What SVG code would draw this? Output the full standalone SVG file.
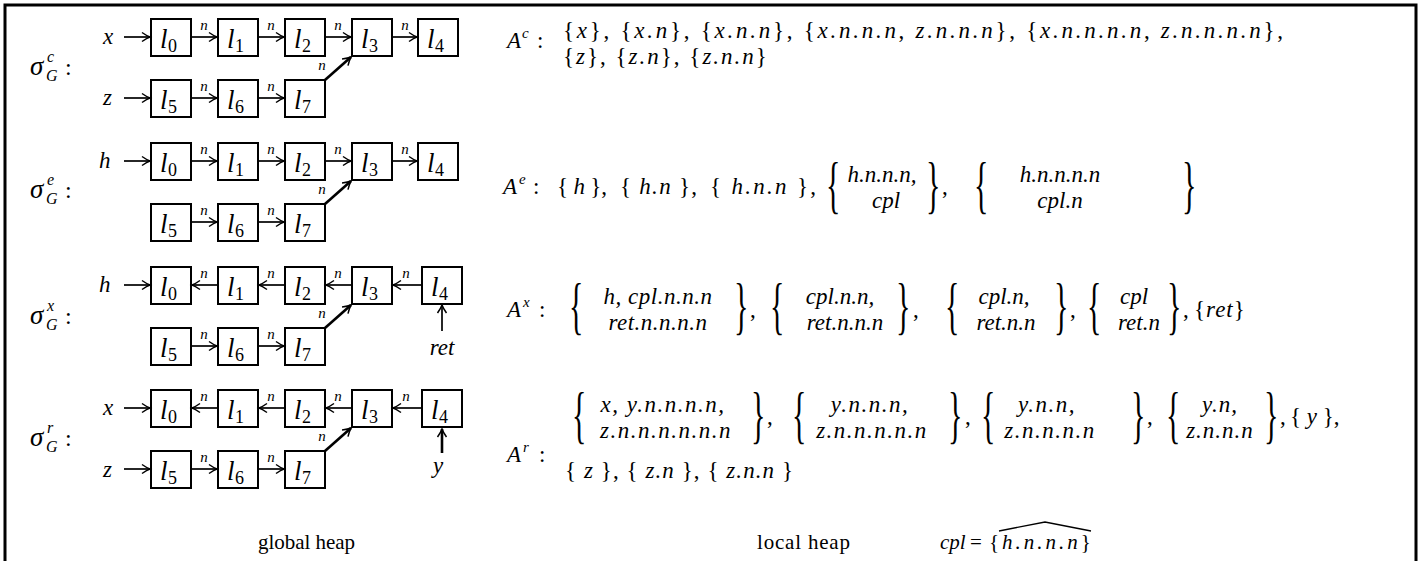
<svg xmlns="http://www.w3.org/2000/svg" width="1427" height="561" viewBox="0 0 1427 561">
<style>
  text { font-family: "Liberation Serif", "DejaVu Serif", serif; fill: #000; }
  .i { font-style: italic; }
  .m { font-size: 23px; }
  .sg { font-size: 27px; font-style: italic; }
  .sgs { font-size: 16px; font-style: italic; }
  .col { font-size: 24px; }
  .ptr { font-size: 23px; font-style: italic; }
  .ll { font-size: 27px; font-style: italic; }
  .ls { font-size: 18px; }
  .nl { font-size: 15px; font-style: italic; text-anchor: middle; }
  .bx { fill: #fff; stroke: #000; stroke-width: 2; }
  .ar { fill: none; stroke: #000; stroke-width: 1.7; marker-end: url(#ah); }
  .dg { fill: none; stroke: #000; stroke-width: 2.6; marker-end: url(#ah); }
  .bb { font-size: 30px; }
  .mid { text-anchor: middle; }
  .cap { font-size: 21px; }
  .sup { font-size: 15px; font-style: italic; }
</style>
<defs>
  <marker id="ah" markerUnits="userSpaceOnUse" markerWidth="14" markerHeight="14" viewBox="-10 -7 12 14" refX="0" refY="0" orient="auto">
    <path d="M-8,-4.5 Q-3,-1 0,0 Q-3,1 -8,4.5" fill="none" stroke="#000" stroke-width="1.5"/>
  </marker>
</defs>

<!-- frame -->
<path d="M5,561 V5 H1416 V561" fill="none" stroke="#000" stroke-width="3"/>

<!-- ===== state labels ===== -->
<g id="label-sigma-c"><text class="sg" x="30" y="75">σ</text><text class="sgs" x="47" y="62">c</text><text class="sgs" x="46" y="81">G</text><text class="col" x="65" y="75">:</text></g>
<g id="label-sigma-e"><text class="sg" x="30" y="198">σ</text><text class="sgs" x="47" y="185">e</text><text class="sgs" x="46" y="204">G</text><text class="col" x="65" y="198">:</text></g>
<g id="label-sigma-x"><text class="sg" x="30" y="324">σ</text><text class="sgs" x="47" y="311">x</text><text class="sgs" x="46" y="330">G</text><text class="col" x="65" y="324">:</text></g>
<g id="label-sigma-r"><text class="sg" x="30" y="446">σ</text><text class="sgs" x="47" y="433">r</text><text class="sgs" x="46" y="452">G</text><text class="col" x="65" y="446">:</text></g>

<!-- ===== row c ===== -->
<g id="c-l0"><rect class="bx" x="151" y="19" width="40" height="37"/><text class="ll" x="160" y="48">l</text><text class="ls" x="168" y="52">0</text></g>
<g id="c-l1"><rect class="bx" x="218" y="19" width="40" height="37"/><text class="ll" x="227" y="48">l</text><text class="ls" x="235" y="52">1</text></g>
<g id="c-l2"><rect class="bx" x="285" y="19" width="40" height="37"/><text class="ll" x="294" y="48">l</text><text class="ls" x="302" y="52">2</text></g>
<g id="c-l3"><rect class="bx" x="352" y="19" width="40" height="37"/><text class="ll" x="361" y="48">l</text><text class="ls" x="369" y="52">3</text></g>
<g id="c-l4"><rect class="bx" x="418" y="19" width="40" height="37"/><text class="ll" x="427" y="48">l</text><text class="ls" x="435" y="52">4</text></g>
<g id="c-l5"><rect class="bx" x="151" y="80" width="40" height="37"/><text class="ll" x="160" y="109">l</text><text class="ls" x="168" y="113">5</text></g>
<g id="c-l6"><rect class="bx" x="218" y="80" width="40" height="37"/><text class="ll" x="227" y="109">l</text><text class="ls" x="235" y="113">6</text></g>
<g id="c-l7"><rect class="bx" x="285" y="80" width="40" height="37"/><text class="ll" x="294" y="109">l</text><text class="ls" x="302" y="113">7</text></g>
<g id="c-vars"><text class="ptr" x="103" y="44">x</text><text class="ptr" x="103" y="105">z</text></g>

<!-- ===== row e ===== -->
<g id="e-l0"><rect class="bx" x="151" y="143" width="40" height="37"/><text class="ll" x="160" y="172">l</text><text class="ls" x="168" y="176">0</text></g>
<g id="e-l1"><rect class="bx" x="218" y="143" width="40" height="37"/><text class="ll" x="227" y="172">l</text><text class="ls" x="235" y="176">1</text></g>
<g id="e-l2"><rect class="bx" x="285" y="143" width="40" height="37"/><text class="ll" x="294" y="172">l</text><text class="ls" x="302" y="176">2</text></g>
<g id="e-l3"><rect class="bx" x="352" y="143" width="40" height="37"/><text class="ll" x="361" y="172">l</text><text class="ls" x="369" y="176">3</text></g>
<g id="e-l4"><rect class="bx" x="418" y="143" width="40" height="37"/><text class="ll" x="427" y="172">l</text><text class="ls" x="435" y="176">4</text></g>
<g id="e-l5"><rect class="bx" x="151" y="204" width="40" height="37"/><text class="ll" x="160" y="233">l</text><text class="ls" x="168" y="237">5</text></g>
<g id="e-l6"><rect class="bx" x="218" y="204" width="40" height="37"/><text class="ll" x="227" y="233">l</text><text class="ls" x="235" y="237">6</text></g>
<g id="e-l7"><rect class="bx" x="285" y="204" width="40" height="37"/><text class="ll" x="294" y="233">l</text><text class="ls" x="302" y="237">7</text></g>
<g id="e-vars"><text class="ptr" x="99" y="168">h</text></g>

<!-- ===== row x ===== -->
<g id="x-l0"><rect class="bx" x="151" y="267" width="40" height="37"/><text class="ll" x="160" y="296">l</text><text class="ls" x="168" y="300">0</text></g>
<g id="x-l1"><rect class="bx" x="218" y="267" width="40" height="37"/><text class="ll" x="227" y="296">l</text><text class="ls" x="235" y="300">1</text></g>
<g id="x-l2"><rect class="bx" x="285" y="267" width="40" height="37"/><text class="ll" x="294" y="296">l</text><text class="ls" x="302" y="300">2</text></g>
<g id="x-l3"><rect class="bx" x="352" y="267" width="40" height="37"/><text class="ll" x="361" y="296">l</text><text class="ls" x="369" y="300">3</text></g>
<g id="x-l4"><rect class="bx" x="422" y="267" width="40" height="37"/><text class="ll" x="431" y="296">l</text><text class="ls" x="439" y="300">4</text></g>
<g id="x-l5"><rect class="bx" x="151" y="328" width="40" height="37"/><text class="ll" x="160" y="357">l</text><text class="ls" x="168" y="361">5</text></g>
<g id="x-l6"><rect class="bx" x="218" y="328" width="40" height="37"/><text class="ll" x="227" y="357">l</text><text class="ls" x="235" y="361">6</text></g>
<g id="x-l7"><rect class="bx" x="285" y="328" width="40" height="37"/><text class="ll" x="294" y="357">l</text><text class="ls" x="302" y="361">7</text></g>
<g id="x-vars"><text class="ptr" x="99" y="292">h</text><text class="ptr mid" x="442" y="355">ret</text></g>

<!-- ===== row r ===== -->
<g id="r-l0"><rect class="bx" x="151" y="390" width="40" height="37"/><text class="ll" x="160" y="419">l</text><text class="ls" x="168" y="423">0</text></g>
<g id="r-l1"><rect class="bx" x="218" y="390" width="40" height="37"/><text class="ll" x="227" y="419">l</text><text class="ls" x="235" y="423">1</text></g>
<g id="r-l2"><rect class="bx" x="285" y="390" width="40" height="37"/><text class="ll" x="294" y="419">l</text><text class="ls" x="302" y="423">2</text></g>
<g id="r-l3"><rect class="bx" x="352" y="390" width="40" height="37"/><text class="ll" x="361" y="419">l</text><text class="ls" x="369" y="423">3</text></g>
<g id="r-l4"><rect class="bx" x="422" y="390" width="40" height="37"/><text class="ll" x="431" y="419">l</text><text class="ls" x="439" y="423">4</text></g>
<g id="r-l5"><rect class="bx" x="151" y="451" width="40" height="37"/><text class="ll" x="160" y="480">l</text><text class="ls" x="168" y="484">5</text></g>
<g id="r-l6"><rect class="bx" x="218" y="451" width="40" height="37"/><text class="ll" x="227" y="480">l</text><text class="ls" x="235" y="484">6</text></g>
<g id="r-l7"><rect class="bx" x="285" y="451" width="40" height="37"/><text class="ll" x="294" y="480">l</text><text class="ls" x="302" y="484">7</text></g>
<g id="r-vars"><text class="ptr" x="103" y="415">x</text><text class="ptr" x="103" y="477">z</text><text class="ptr mid" x="438" y="473">y</text></g>

<!-- ===== connectors ===== -->
<g id="connectors">
  <!-- row c -->
  <path class="ar" d="M124,37 H150"/>
  <path class="ar" d="M192,37 H217"/><path class="ar" d="M259,37 H284"/><path class="ar" d="M326,37 H351"/><path class="ar" d="M393,37 H417"/>
  <path class="ar" d="M124,98 H150"/>
  <path class="ar" d="M192,98 H217"/><path class="ar" d="M259,98 H284"/>
  <path class="dg" d="M325,80 L351,57"/>
  <!-- row e -->
  <path class="ar" d="M124,161 H150"/>
  <path class="ar" d="M192,161 H217"/><path class="ar" d="M259,161 H284"/><path class="ar" d="M326,161 H351"/><path class="ar" d="M393,161 H417"/>
  <path class="ar" d="M192,222 H217"/><path class="ar" d="M259,222 H284"/>
  <path class="dg" d="M325,204 L351,181"/>
  <!-- row x -->
  <path class="ar" d="M124,285 H150"/>
  <path class="ar" d="M217,285 H192"/><path class="ar" d="M284,285 H259"/><path class="ar" d="M351,285 H326"/><path class="ar" d="M421,285 H393"/>
  <path class="ar" d="M192,346 H217"/><path class="ar" d="M259,346 H284"/>
  <path class="dg" d="M325,328 L351,305"/>
  <path class="ar" d="M442,331 V305"/>
  <!-- row r -->
  <path class="ar" d="M124,408 H150"/>
  <path class="ar" d="M217,408 H192"/><path class="ar" d="M284,408 H259"/><path class="ar" d="M351,408 H326"/><path class="ar" d="M421,408 H393"/>
  <path class="ar" d="M124,469 H150"/>
  <path class="ar" d="M192,469 H217"/><path class="ar" d="M259,469 H284"/>
  <path class="dg" d="M325,451 L351,428"/>
  <path class="ar" d="M442,453 V429" style="stroke-width:2.6"/>

  <!-- field labels -->
  <g class="nl-set">
    <text class="nl" x="204" y="30">n</text><text class="nl" x="271" y="30">n</text><text class="nl" x="338" y="30">n</text><text class="nl" x="405" y="30">n</text>
    <text class="nl" x="204" y="91">n</text><text class="nl" x="271" y="91">n</text><text class="nl" x="322" y="70">n</text>
    <text class="nl" x="204" y="154">n</text><text class="nl" x="271" y="154">n</text><text class="nl" x="338" y="154">n</text><text class="nl" x="405" y="154">n</text>
    <text class="nl" x="204" y="215">n</text><text class="nl" x="271" y="215">n</text><text class="nl" x="322" y="194">n</text>
    <text class="nl" x="204" y="278">n</text><text class="nl" x="271" y="278">n</text><text class="nl" x="338" y="278">n</text><text class="nl" x="406" y="278">n</text>
    <text class="nl" x="204" y="339">n</text><text class="nl" x="271" y="339">n</text><text class="nl" x="322" y="318">n</text>
    <text class="nl" x="204" y="401">n</text><text class="nl" x="271" y="401">n</text><text class="nl" x="338" y="401">n</text><text class="nl" x="406" y="401">n</text>
    <text class="nl" x="204" y="462">n</text><text class="nl" x="271" y="462">n</text><text class="nl" x="322" y="441">n</text>
  </g>
</g>

<!-- ===== access paths: A^c ===== -->
<g id="paths-c" class="m">
  <text class="i" x="507" y="48">A</text><text class="sup" x="522" y="38">c</text><text x="537" y="48">:</text>
  <text x="563" y="38" textLength="720">{<tspan class="i">x</tspan>}, {<tspan class="i">x.n</tspan>}, {<tspan class="i">x.n.n</tspan>}, {<tspan class="i">x.n.n.n</tspan>, <tspan class="i">z.n.n.n</tspan>}, {<tspan class="i">x.n.n.n.n</tspan>, <tspan class="i">z.n.n.n.n</tspan>},</text>
  <text x="563" y="64" style="letter-spacing:2px">{<tspan class="i">z</tspan>}, {<tspan class="i">z.n</tspan>}, {<tspan class="i">z.n.n</tspan>}</text>
</g>

<!-- ===== access paths: A^e ===== -->
<g id="paths-e" class="m">
  <text class="i" x="503" y="194">A</text><text class="sup" x="519" y="184">e</text><text x="533" y="194">:</text>
  <text x="557" y="194" textLength="50">{ <tspan class="i">h</tspan> },</text>
  <text x="620" y="194" textLength="77">{ <tspan class="i">h.n</tspan> },</text>
  <text x="710" y="194" textLength="106">{ <tspan class="i">h.n.n</tspan> },</text>
  <text class="bb" transform="translate(826,206) scale(1,2.1)">{</text>
  <text class="i mid" x="882" y="182">h.n.n.n,</text>
  <text class="i mid" x="886" y="208">cpl</text>
  <text class="bb" transform="translate(926,206) scale(1,2.1)">}</text>
  <text x="942" y="194">,</text>
  <text class="bb" transform="translate(974,206) scale(1,2.1)">{</text>
  <text class="i mid" x="1060" y="182">h.n.n.n.n</text>
  <text class="i mid" x="1060" y="208">cpl.n</text>
  <text class="bb" transform="translate(1182,206) scale(1,2.1)">}</text>
</g>

<!-- ===== access paths: A^x ===== -->
<g id="paths-x" class="m">
  <text class="i" x="507" y="317">A</text><text class="sup" x="523" y="307">x</text><text x="539" y="317">:</text>
  <text class="bb" transform="translate(569,327) scale(1,2.1)">{</text>
  <text class="i mid" x="658" y="304" style="letter-spacing:0.5px">h, cpl.n.n.n</text>
  <text class="i mid" x="658" y="330" style="letter-spacing:0.5px">ret.n.n.n.n</text>
  <text class="bb" transform="translate(734,327) scale(1,2.1)">}</text>
  <text x="750" y="317">,</text>
  <text class="bb" transform="translate(770,327) scale(1,2.1)">{</text>
  <text class="i mid" x="840" y="304">cpl.n.n,</text>
  <text class="i mid" x="845" y="330">ret.n.n.n</text>
  <text class="bb" transform="translate(896,327) scale(1,2.1)">}</text>
  <text x="913" y="317">,</text>
  <text class="bb" transform="translate(945,327) scale(1,2.1)">{</text>
  <text class="i mid" x="1004" y="304">cpl.n,</text>
  <text class="i mid" x="1006" y="330">ret.n.n</text>
  <text class="bb" transform="translate(1054,327) scale(1,2.1)">}</text>
  <text x="1070" y="317">,</text>
  <text class="bb" transform="translate(1087,327) scale(1,2.1)">{</text>
  <text class="i mid" x="1134" y="304">cpl</text>
  <text class="i mid" x="1139" y="330">ret.n</text>
  <text class="bb" transform="translate(1167,327) scale(1,2.1)">}</text>
  <text x="1183" y="317">,</text>
  <text x="1194" y="317" style="letter-spacing:1px">{<tspan class="i">ret</tspan>}</text>
</g>

<!-- ===== access paths: A^r ===== -->
<g id="paths-r" class="m">
  <text class="i" x="507" y="462">A</text><text class="sup" x="523" y="452">r</text><text x="539" y="462">:</text>
  <text class="bb" transform="translate(572,436) scale(1,2.1)">{</text>
  <text class="i mid" x="663" y="412" style="letter-spacing:1.5px">x, y.n.n.n.n,</text>
  <text class="i mid" x="666" y="438" style="letter-spacing:1.5px">z.n.n.n.n.n.n</text>
  <text class="bb" transform="translate(751,436) scale(1,2.1)">}</text>
  <text x="767" y="424">,</text>
  <text class="bb" transform="translate(792,436) scale(1,2.1)">{</text>
  <text class="i mid" x="870" y="412" style="letter-spacing:1.5px">y.n.n.n,</text>
  <text class="i mid" x="872" y="438" style="letter-spacing:1.5px">z.n.n.n.n.n</text>
  <text class="bb" transform="translate(948,436) scale(1,2.1)">}</text>
  <text x="965" y="424">,</text>
  <text class="bb" transform="translate(981,436) scale(1,2.1)">{</text>
  <text class="i mid" x="1047" y="412" style="letter-spacing:1.5px">y.n.n,</text>
  <text class="i mid" x="1050" y="438" style="letter-spacing:1.5px">z.n.n.n.n</text>
  <text class="bb" transform="translate(1131,436) scale(1,2.1)">}</text>
  <text x="1147" y="424">,</text>
  <text class="bb" transform="translate(1166,436) scale(1,2.1)">{</text>
  <text class="i mid" x="1220" y="412" style="letter-spacing:1px">y.n,</text>
  <text class="i mid" x="1220" y="438" style="letter-spacing:1px">z.n.n.n</text>
  <text class="bb" transform="translate(1264,436) scale(1,2.1)">}</text>
  <text x="1280" y="424">,</text>
  <text x="1290" y="424">{ <tspan class="i">y</tspan> },</text>
  <text x="565" y="478" textLength="228">{ <tspan class="i">z</tspan> }, { <tspan class="i">z.n</tspan> }, { <tspan class="i">z.n.n</tspan> }</text>
</g>

<!-- ===== captions ===== -->
<g id="captions" class="cap">
  <text x="258" y="549" textLength="97">global heap</text>
  <text x="757" y="549" textLength="93">local heap</text>
  <text class="i" x="940" y="549">cpl</text>
  <text x="970" y="549">=</text>
  <text x="989" y="549" style="letter-spacing:3px">{<tspan class="i">h.n.n.n</tspan>}</text>
  <path d="M999,531 L1045,522 L1091,531" fill="none" stroke="#000" stroke-width="1.3"/>
</g>
</svg>
